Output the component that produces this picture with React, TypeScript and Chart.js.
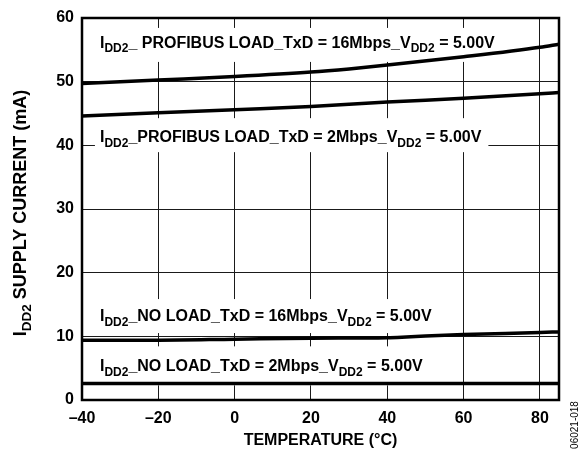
import { useEffect, useRef } from "react";
import { Chart, registerables } from "chart.js";

Chart.register(...registerables);

// ---- data ----
const tempsProfibus16 = [-40, -20, 0, 20, 30, 40, 60, 80, 85];
const idd2Profibus16 = [49.7, 50.25, 50.8, 51.5, 52.0, 52.6, 53.9, 55.4, 55.9];

const tempsProfibus2 = [-40, -20, 0, 20, 40, 60, 80, 85];
const idd2Profibus2 = [44.6, 45.1, 45.6, 46.1, 46.8, 47.4, 48.1, 48.3];

const tempsNoLoad16 = [-40, -20, 0, 20, 40, 45, 50, 60, 80, 85];
const idd2NoLoad16 = [9.4, 9.4, 9.55, 9.7, 9.78, 9.9, 10.05, 10.28, 10.6, 10.7];

const tempsNoLoad2 = [-40, 0, 40, 85];
const idd2NoLoad2 = [2.6, 2.6, 2.6, 2.6];

const xTickValues = [-40, -20, 0, 20, 40, 60, 80];
const xMin = -40;
const xMax = 85;
const yMin = 0;
const yMax = 60;
const yStep = 10;

const xTitle = "TEMPERATURE (°C)";
const yTitleParts: [string, boolean][] = [["I", false], ["DD2", true], [" SUPPLY CURRENT (mA)", false]];
const figureNote = "06021-018";

// curve labels: [text, isSubscript]
const curveLabels: [string, boolean][][] = [
  [["I", false], ["DD2", true], ["_ PROFIBUS LOAD_TxD = 16Mbps_V", false], ["DD2", true], [" = 5.00V", false]],
  [["I", false], ["DD2", true], ["_PROFIBUS LOAD_TxD = 2Mbps_V", false], ["DD2", true], [" = 5.00V", false]],
  [["I", false], ["DD2", true], ["_NO LOAD_TxD = 16Mbps_V", false], ["DD2", true], [" = 5.00V", false]],
  [["I", false], ["DD2", true], ["_NO LOAD_TxD = 2Mbps_V", false], ["DD2", true], [" = 5.00V", false]],
];
const curveLabelTemp = -35.3;
const curveLabelValues = [55.3, 40.5, 12.4, 4.5];

// ---- style ----
const FAMILY = '"Liberation Sans", Arial, Helvetica, sans-serif';
const MAIN_FONT = `bold 16px ${FAMILY}`;
const SUB_FONT = `bold 12px ${FAMILY}`;
const YT_MAIN_FONT = `bold 18px ${FAMILY}`;
const YT_SUB_FONT = `bold 13.5px ${FAMILY}`;
const SUB_DROP = 4.5;
const boxUp = [20, 24, 22, 25];
const boxDown = [14, 10, 12, 14];

function drawParts(
  ctx: CanvasRenderingContext2D,
  parts: [string, boolean][],
  x: number,
  y: number,
  main = MAIN_FONT,
  subF = SUB_FONT,
  drop = SUB_DROP
) {
  let cx = x;
  for (const [t, sub] of parts) {
    ctx.font = sub ? subF : main;
    ctx.fillText(t, cx, sub ? y + drop : y);
    cx += ctx.measureText(t).width;
  }
  return cx - x;
}
function measureParts(ctx: CanvasRenderingContext2D, parts: [string, boolean][], main = MAIN_FONT, subF = SUB_FONT) {
  let w = 0;
  for (const [t, sub] of parts) {
    ctx.font = sub ? subF : main;
    w += ctx.measureText(t).width;
  }
  return w;
}

const overlayPlugin = {
  id: "overlay",
  beforeDatasetsDraw(chart: any) {
    const { ctx, scales } = chart;
    const xs = scales.x;
    const ys = scales.y;
    ctx.save();
    ctx.textAlign = "left";
    ctx.textBaseline = "alphabetic";
    curveLabels.forEach((parts, i) => {
      const x0 = xs.getPixelForValue(curveLabelTemp);
      const yb = ys.getPixelForValue(curveLabelValues[i]);
      const w = measureParts(ctx, parts);
      ctx.fillStyle = "#ffffff";
      ctx.fillRect(x0 - 5, yb - boxUp[i], w + 12, boxUp[i] + boxDown[i]);
      ctx.fillStyle = "#000000";
      drawParts(ctx, parts, x0, yb);
    });
    ctx.restore();
  },
  afterDatasetsDraw(chart: any) {
    const { ctx, chartArea: a } = chart;
    ctx.save();
    ctx.strokeStyle = "#000000";
    ctx.lineWidth = 2.5;
    ctx.strokeRect(a.left, a.top, a.right - a.left, a.bottom - a.top);
    ctx.restore();
  },
  afterDraw(chart: any) {
    const { ctx, chartArea: a } = chart;
    ctx.save();
    ctx.fillStyle = "#000000";
    ctx.textBaseline = "alphabetic";
    // x title
    ctx.font = MAIN_FONT;
    ctx.textAlign = "center";
    ctx.fillText(xTitle, (a.left + a.right) / 2, a.bottom + 45);
    // y title
    ctx.textAlign = "left";
    const w = measureParts(ctx, yTitleParts, YT_MAIN_FONT, YT_SUB_FONT);
    ctx.save();
    ctx.translate(26, (a.top + a.bottom) / 2 + 4);
    ctx.rotate(-Math.PI / 2);
    drawParts(ctx, yTitleParts, -w / 2, 0, YT_MAIN_FONT, YT_SUB_FONT, 5);
    ctx.restore();
    // note
    ctx.save();
    ctx.font = `10px ${FAMILY}`;
    ctx.textAlign = "center";
    ctx.translate(578, 425);
    ctx.rotate(-Math.PI / 2);
    ctx.fillText(figureNote, 0, 0);
    ctx.restore();
    ctx.restore();
  },
};

function toPoints(xs: number[], ys: number[]) {
  return xs.map((x, i) => ({ x, y: ys[i] }));
}

export default function App() {
  const canvasRef = useRef<HTMLCanvasElement | null>(null);

  useEffect(() => {
    document.body.style.margin = "0";
    const canvas = canvasRef.current;
    if (!canvas) return;
    const lineDs = (label: string, data: { x: number; y: number }[]) => ({
      label,
      data,
      borderColor: "#000000",
      borderWidth: 3.5,
      pointRadius: 0,
      fill: false,
      cubicInterpolationMode: "monotone" as const,
    });
    const chart = new Chart(canvas, {
      type: "line",
      data: {
        datasets: [
          lineDs("PROFIBUS 16Mbps", toPoints(tempsProfibus16, idd2Profibus16)),
          lineDs("PROFIBUS 2Mbps", toPoints(tempsProfibus2, idd2Profibus2)),
          lineDs("NO LOAD 16Mbps", toPoints(tempsNoLoad16, idd2NoLoad16)),
          lineDs("NO LOAD 2Mbps", toPoints(tempsNoLoad2, idd2NoLoad2)),
        ],
      },
      options: {
        animation: false,
        responsive: false,
        devicePixelRatio: 1,
        layout: { padding: { top: 18, right: 27, left: 0, bottom: 0 } },
        plugins: { legend: { display: false }, tooltip: { enabled: false }, title: { display: false } },
        scales: {
          x: {
            type: "linear",
            min: xMin,
            max: xMax,
            afterBuildTicks: (s: any) => {
              s.ticks = xTickValues.map((v) => ({ value: v }));
            },
            afterFit: (s: any) => {
              s.height = 49;
            },
            border: { display: false },
            grid: {
              drawTicks: false,
              lineWidth: 1,
              color: (c: any) => (c.tick && c.tick.value === xMin ? "rgba(0,0,0,0)" : "#1a1a1a"),
            },
            ticks: {
              padding: 9,
              color: "#000000",
              maxRotation: 0,
              autoSkip: false,
              font: { family: FAMILY, size: 16, weight: "bold" },
              callback: (v: any) => String(v).replace("-", "\u2013"),
            },
          },
          y: {
            type: "linear",
            min: yMin,
            max: yMax,
            afterFit: (s: any) => {
              s.width = 82;
            },
            border: { display: false },
            grid: { drawTicks: false, lineWidth: 1, color: "#1a1a1a" },
            ticks: {
              stepSize: yStep,
              padding: 8,
              color: "#000000",
              font: { family: FAMILY, size: 16, weight: "bold" },
            },
          },
        },
      },
      plugins: [overlayPlugin],
    });
    return () => chart.destroy();
  }, []);

  return (
    <div style={{ width: 586, height: 449, background: "#fff" }}>
      <canvas ref={canvasRef} width={586} height={449} style={{ display: "block" }} />
    </div>
  );
}
